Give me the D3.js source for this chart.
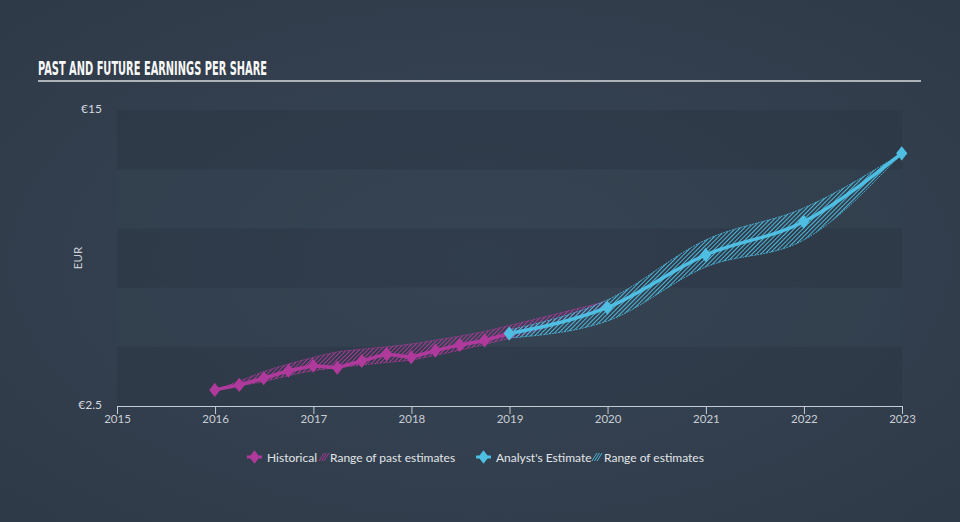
<!DOCTYPE html>
<html>
<head>
<meta charset="utf-8">
<script src="https://cdn.jsdelivr.net/npm/d3@7"></script>
<style>
html,body{margin:0;padding:0;background:#323e4d;}
svg{display:block;}
</style>
</head>
<body>
<svg id="chart" width="960" height="522"></svg>
<script>
// ---------- data ----------
const histDates = ["2015-12-31","2016-03-31","2016-06-30","2016-09-30","2016-12-31","2017-03-31","2017-06-30","2017-09-30","2017-12-31","2018-03-31","2018-06-30","2018-09-30","2018-12-31"];
const histEPS   = [3.18, 3.39, 3.67, 3.99, 4.20, 4.12, 4.40, 4.70, 4.56, 4.84, 5.08, 5.27, 5.56];

const pastRangeDates = ["2015-12-31","2016-03-31","2016-06-30","2016-09-30","2016-12-31","2017-03-31","2017-06-30","2017-09-30","2017-12-31","2018-03-31","2018-06-30","2018-09-30","2018-12-31","2019-12-31"];
const pastRangeHigh  = [3.18, 3.55, 3.95, 4.27, 4.55, 4.78, 4.90, 5.00, 5.12, 5.28, 5.45, 5.65, 5.90, 6.93];
const pastRangeLow   = [3.18, 3.35, 3.53, 3.78, 3.99, 4.12, 4.23, 4.34, 4.44, 4.64, 4.86, 5.10, 5.36, 6.70];

const estDates = ["2018-12-31","2019-12-31","2020-12-31","2021-12-31","2022-12-31"];
const estEPS   = [5.56, 6.66, 8.88, 10.28, 13.17];
const estHigh  = [5.71, 6.98, 9.51, 10.86, 13.17];
const estLow   = [5.37, 6.09, 8.37, 9.51, 13.17];

const yTickValues = [2.5, 15];
const yTickLabels = ["€2.5", "€15"];
const xYears = [2015, 2016, 2017, 2018, 2019, 2020, 2021, 2022, 2023];

const title = "PAST AND FUTURE EARNINGS PER SHARE";
const yAxisTitle = "EUR";
const legendItems = ["Historical", "Range of past estimates", "Analyst's Estimate", "Range of estimates"];

// ---------- setup ----------
const W = 960, H = 522;
const C_PAST = "#b03a9c", C_EST = "#4ebfe3";
const parse = d3.timeParse("%Y-%m-%d");
const svg = d3.select("#chart");
const defs = svg.append("defs");

const bg = defs.append("radialGradient").attr("id","bg").attr("cx","50%").attr("cy","50%").attr("r","70%");
bg.append("stop").attr("offset","0%").attr("stop-color","#374555");
bg.append("stop").attr("offset","100%").attr("stop-color","#2f3a48");
svg.append("rect").attr("width",W).attr("height",H).attr("fill","url(#bg)");

function hatch(id, color){
  const p = defs.append("pattern").attr("id",id).attr("patternUnits","userSpaceOnUse")
    .attr("width",3).attr("height",3).attr("patternTransform","rotate(45)");
  p.append("line").attr("x1",0.5).attr("y1",0).attr("x2",0.5).attr("y2",3)
    .attr("stroke",color).attr("stroke-width",1).attr("stroke-opacity",0.95);
}
hatch("hPast", C_PAST);
hatch("hEst", C_EST);

const x = d3.scaleTime().domain([new Date(2015,0,1), new Date(2023,0,1)]).range([117, 902]);
const y = d3.scaleLinear().domain([2.5, 15]).range([406, 110]);

// bands
const bandEdges = d3.range(2.5, 15, 2.5);
svg.append("g").selectAll("rect").data(bandEdges).join("rect")
  .attr("x", x.range()[0]).attr("width", x.range()[1]-x.range()[0])
  .attr("y", d => y(d+2.5)).attr("height", d => y(d)-y(d+2.5))
  .attr("fill", (d,i) => i%2===0 ? "#2c3745" : "#334150")
  .attr("fill-opacity", (d,i) => i%2===0 ? 0.55 : 0.35);

// title
svg.append("text").attr("x",38).attr("y",75).text(title)
  .attr("font-family","'Liberation Sans Narrow','DejaVu Sans Condensed',sans-serif")
  .attr("font-weight","bold").attr("font-size",19).attr("fill","#f7f7f7")
  .attr("textLength",229).attr("lengthAdjust","spacingAndGlyphs");
svg.append("line").attr("x1",38).attr("x2",921).attr("y1",81).attr("y2",81)
  .attr("stroke","#aeb3ba").attr("stroke-width",2);

// x axis
const xAxis = d3.axisBottom(x).tickValues(xYears.map(v=>new Date(v,0,1)))
  .tickFormat(d3.timeFormat("%Y")).tickSize(8).tickSizeOuter(0);
const gx = svg.append("g").attr("transform",`translate(0,${y(2.5)})`).call(xAxis);
gx.select(".domain").attr("stroke","#c5ccd6").attr("stroke-width",1);
gx.selectAll(".tick line").attr("stroke","#c5ccd6");
gx.selectAll(".tick text").attr("fill","#c9ced5").attr("font-size",11.5)
  .attr("font-family","Lato, 'Open Sans', sans-serif").attr("dy","0.55em");

// y axis labels
svg.append("g").selectAll("text").data(yTickValues).join("text")
  .attr("x",102).attr("y",d=>y(d)-1).attr("dy","0.35em").attr("text-anchor","end")
  .attr("fill","#d4d8de").attr("font-size",12).attr("font-family","Lato, 'Open Sans', sans-serif")
  .text((d,i)=>yTickLabels[i]);
svg.append("text").attr("transform","translate(82,258) rotate(-90)")
  .attr("text-anchor","middle").attr("fill","#c9ced5").attr("font-size",11.5)
  .attr("font-family","Lato, 'Open Sans', sans-serif").text(yAxisTitle);

// ranges
const pastRange = pastRangeDates.map((d,i)=>({d:parse(d), lo:pastRangeLow[i], hi:pastRangeHigh[i]}));
const estRange = estDates.map((d,i)=>({d:parse(d), lo:estLow[i], hi:estHigh[i]}));
const area = d3.area().x(d=>x(d.d)).y0(d=>y(d.lo)).y1(d=>y(d.hi)).curve(d3.curveMonotoneX);
function band(data, pid, color){
  svg.append("path").datum(data).attr("d",area).attr("fill",`url(#${pid})`)
    .attr("stroke",color).attr("stroke-width",1).attr("stroke-opacity",0.8)
    .attr("stroke-dasharray","2,1");
}
band(pastRange, "hPast", C_PAST);
band(estRange, "hEst", C_EST);

// lines
const hist = histDates.map((d,i)=>({d:parse(d), v:histEPS[i]}));
const est = estDates.map((d,i)=>({d:parse(d), v:estEPS[i]}));
svg.append("path").datum(hist).attr("fill","none").attr("stroke",C_PAST).attr("stroke-width",3.5)
  .attr("stroke-linejoin","round")
  .attr("d", d3.line().x(d=>x(d.d)).y(d=>y(d.v)));
svg.append("path").datum(est).attr("fill","none").attr("stroke",C_EST).attr("stroke-width",3.5)
  .attr("d", d3.line().x(d=>x(d.d)).y(d=>y(d.v)).curve(d3.curveMonotoneX));

const diamond = d3.symbol().type(d3.symbolDiamond).size(64);
svg.append("g").selectAll("path").data(hist).join("path")
  .attr("d",diamond).attr("transform",d=>`translate(${x(d.d)},${y(d.v)}) scale(1.3,0.95)`).attr("fill",C_PAST);
svg.append("g").selectAll("path").data(est).join("path")
  .attr("d",diamond).attr("transform",d=>`translate(${x(d.d)},${y(d.v)}) scale(1.3,0.95)`).attr("fill",C_EST);

// legend
const lg = svg.append("g").attr("font-family","Lato, 'Open Sans', sans-serif").attr("font-size",12).attr("fill","#e2e5e9");
function lineIcon(x0, color){
  lg.append("line").attr("x1",x0).attr("x2",x0+15).attr("y1",457).attr("y2",457).attr("stroke",color).attr("stroke-width",3);
  lg.append("path").attr("d",diamond).attr("transform",`translate(${x0+7.5},457) scale(1.2,0.9)`).attr("fill",color);
}
function hatchIcon(x0, color){
  for(let k=0;k<3;k++){
    lg.append("line").attr("x1",x0+k*2.5).attr("y1",461).attr("x2",x0+k*2.5+5).attr("y2",453)
      .attr("stroke",color).attr("stroke-width",1).attr("stroke-opacity",0.9);
  }
}
lineIcon(247, C_PAST);
lg.append("text").attr("x",267).attr("y",461.5).text(legendItems[0]);
hatchIcon(319, C_PAST);
lg.append("text").attr("x",330).attr("y",461.5).text(legendItems[1]);
lineIcon(476, C_EST);
lg.append("text").attr("x",496).attr("y",461.5).text(legendItems[2]);
hatchIcon(592, C_EST);
lg.append("text").attr("x",604).attr("y",461.5).text(legendItems[3]);
</script>
</body>
</html>
